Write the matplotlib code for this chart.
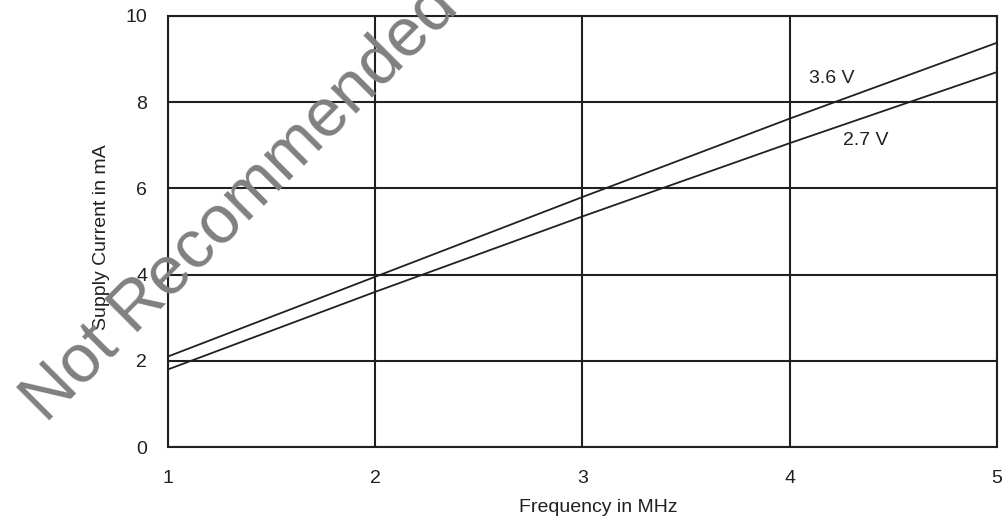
import matplotlib
matplotlib.use('Agg')
import matplotlib.pyplot as plt

plt.rcParams['font.family'] = ['Liberation Sans', 'DejaVu Sans']

# Data
freq_mhz = [1, 2, 3, 4, 5]
current_36v = [2.1, 3.95, 5.8, 7.62, 9.38]
current_27v = [1.8, 3.6, 5.35, 7.05, 8.7]
x_ticks = [1, 2, 3, 4, 5]
y_ticks = [0, 2, 4, 6, 8, 10]

ink = '#231f20'

fig = plt.figure(figsize=(10.08, 5.19), dpi=100)
ax = fig.add_axes([168 / 1008, 1 - 447 / 519, (997 - 168) / 1008, (447 - 16) / 519])

ax.plot(freq_mhz, current_36v, color=ink, lw=1.3)
ax.plot(freq_mhz, current_27v, color=ink, lw=1.3)

ax.set_xlim(1, 5)
ax.set_ylim(0, 10)
ax.set_xticks(x_ticks)
ax.set_yticks(y_ticks)
ax.tick_params(axis='both', length=0, labelsize=14, colors=ink)
ax.tick_params(axis='x', pad=16.5)
ax.tick_params(axis='y', pad=15)
ax.grid(True, color=ink, lw=1.5)
for s in ax.spines.values():
    s.set_color(ink)
    s.set_linewidth(1.5)

ax.text(4.204, 8.54, '3.6 V', fontsize=14, color=ink, ha='center', va='center')
ax.text(4.368, 7.12, '2.7 V', fontsize=14, color=ink, ha='center', va='center')

fig.text(598 / 1008, 1 - 508 / 519, 'Frequency in MHz', fontsize=14, color=ink,
         ha='center', va='center')
fig.text(102 / 1008, 1 - 237 / 519, 'Supply Current in mA', fontsize=14, color=ink,
         ha='center', va='center', rotation=90)

# watermark on top of everything
fig.text(46 / 1008, 1 - 424 / 519, 'Not Recommended', fontsize=49, color='#808080',
         rotation=45, rotation_mode='anchor', ha='left', va='baseline', zorder=10)

fig.savefig('out.png', dpi=100)
